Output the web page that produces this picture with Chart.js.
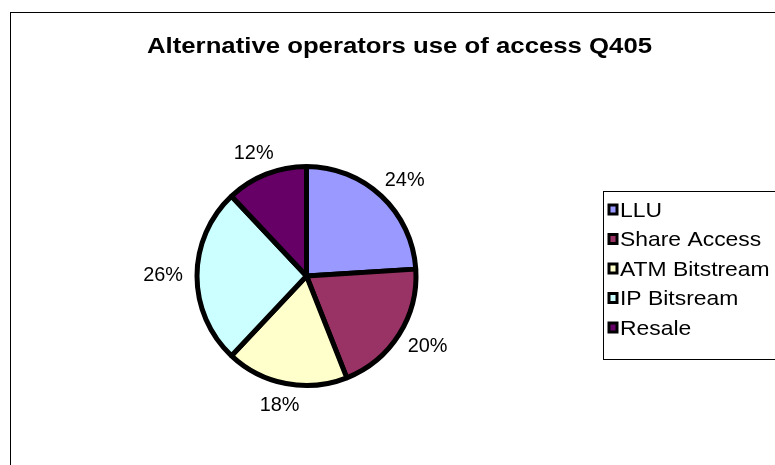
<!DOCTYPE html>
<html>
<head>
<meta charset="utf-8">
<script src="https://cdn.jsdelivr.net/npm/chart.js@4/dist/chart.umd.min.js"></script>
<style>
  html, body { margin: 0; padding: 0; background: #fff; }
  canvas { display: block; }
</style>
</head>
<body>
<canvas id="chart" width="775" height="465"></canvas>
<script>
const chartTitle = "Alternative operators use of access Q405";
const categories = ["LLU", "Share Access", "ATM Bitstream", "IP Bitsream", "Resale"];
const shares = [24, 20, 18, 26, 12];
const sliceColors = ["#9999FF", "#993366", "#FFFFCC", "#CCFFFF", "#660066"];

// text in the reference is a little wider than plain Arial, so stretch it a bit
function stretchedText(ctx, text, x, y, sx, align) {
  ctx.save();
  ctx.translate(x, y);
  ctx.scale(sx, 1);
  ctx.textAlign = align;
  ctx.fillText(text, 0, 0);
  ctx.restore();
}

const decorations = {
  id: "decorations",
  afterDraw(chart) {
    const ctx = chart.ctx;
    ctx.save();

    // outer frame (right and bottom edges are off the picture)
    ctx.strokeStyle = "#000";
    ctx.lineWidth = 1;
    ctx.strokeRect(10.5, 12.5, 800, 500);

    // title
    ctx.fillStyle = "#000";
    ctx.font = "bold 22px 'Liberation Sans', Arial, sans-serif";
    ctx.textBaseline = "alphabetic";
    stretchedText(ctx, chartTitle, 399.5, 53, 1.17, "center");

    // percentage labels outside each slice
    const meta = chart.getDatasetMeta(0);
    const values = chart.data.datasets[0].data;
    const total = values.reduce((a, b) => a + b, 0);
    ctx.font = "19.5px 'Liberation Sans', Arial, sans-serif";
    ctx.textBaseline = "middle";
    meta.data.forEach((arc, i) => {
      const p = arc.getProps(["x", "y", "startAngle", "endAngle", "outerRadius"], true);
      const mid = (p.startAngle + p.endAngle) / 2;
      const r = p.outerRadius + 14;
      const label = Math.round(values[i] / total * 100) + "%";
      const hw = ctx.measureText(label).width * 1.02 / 2;
      const cx = p.x + Math.cos(mid) * r + Math.cos(mid) * hw;
      const cy = p.y + Math.sin(mid) * r + Math.sin(mid) * 8;
      stretchedText(ctx, label, cx, cy, 1.02, "center");
    });

    // legend box
    ctx.strokeStyle = "#000";
    ctx.lineWidth = 1;
    ctx.strokeRect(603.5, 191.5, 200, 168);
    ctx.font = "21px 'Liberation Sans', Arial, sans-serif";
    ctx.textBaseline = "middle";
    chart.data.labels.forEach((name, i) => {
      const cy = 210 + i * 29.5;
      ctx.fillStyle = "#000";
      ctx.fillRect(607.5, cy - 6.5, 11, 12);
      ctx.fillStyle = sliceColors[i];
      ctx.fillRect(610.5, cy - 3.5, 5, 6);
      ctx.fillStyle = "#000";
      stretchedText(ctx, name, 620, cy + 1, 1.09, "left");
    });

    ctx.restore();
  },
};

new Chart(document.getElementById("chart"), {
  type: "pie",
  data: {
    labels: categories,
    datasets: [{
      data: shares,
      backgroundColor: sliceColors,
      borderColor: "#000",
      borderWidth: 5,
    }],
  },
  options: {
    responsive: false,
    animation: false,
    radius: 109.5,
    layout: { padding: { left: 186.5, right: 348.5, top: 156, bottom: 69 } },
    plugins: {
      legend: { display: false },
      title: { display: false },
      tooltip: { enabled: false },
    },
  },
  plugins: [decorations],
});
</script>
</body>
</html>
